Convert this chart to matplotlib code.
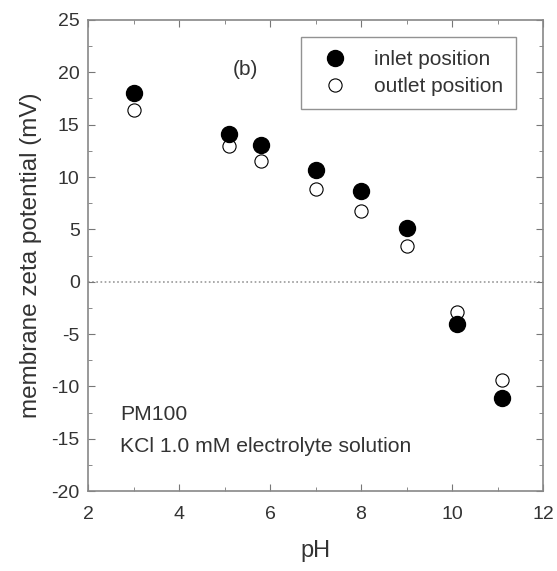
import matplotlib
matplotlib.use("Agg")
import matplotlib.pyplot as plt
from matplotlib.ticker import MultipleLocator

plt.rcParams['font.family'] = ['Liberation Sans', 'DejaVu Sans']
plt.rcParams['axes.unicode_minus'] = False

# pH und Zeta-Potential
ph = [3.0, 5.1, 5.8, 7.0, 8.0, 9.0, 10.1, 11.1]
inlet = [18.0, 14.1, 13.1, 10.7, 8.7, 5.1, -4.0, -11.1]
outlet = [16.4, 13.0, 11.5, 8.9, 6.8, 3.4, -2.9, -9.4]

fig = plt.figure(figsize=(5.57, 5.71), dpi=100)
ax = fig.add_axes([0.158, 0.14, 0.817, 0.825])

ax.axhline(0, color='#999999', ls=(0, (1, 1.5)), lw=1.2, zorder=1)
ax.plot(ph, inlet, 'o', color='black', ms=11.5, label='inlet position', zorder=3)
ax.plot(ph, outlet, 'o', mfc='white', mec='black', mew=0.8, ms=9.5, label='outlet position', zorder=2)

ax.set_xlim(2, 12)
ax.set_ylim(-20, 25)
ax.xaxis.set_major_locator(MultipleLocator(2))
ax.xaxis.set_minor_locator(MultipleLocator(1))
ax.yaxis.set_major_locator(MultipleLocator(5))
ax.yaxis.set_minor_locator(MultipleLocator(2.5))
ax.tick_params(which='both', direction='in', top=True, right=True, color='#777777', labelsize=14, labelcolor='#333333')
ax.tick_params(which='major', length=5)
ax.tick_params(axis='x', which='major', pad=11)
ax.tick_params(axis='y', which='major', pad=6)
ax.tick_params(which='minor', length=3)
for s in ax.spines.values():
    s.set_color('#888888')
    s.set_linewidth(1.2)

ax.set_xlabel('pH', fontsize=17, color='#333333', labelpad=12)
ax.set_ylabel('membrane zeta potential (mV)', fontsize=17.5, color='#333333', labelpad=7)

ax.text(5.47, 20.3, '(b)', fontsize=15, color='#333333', ha='center', va='center')
ax.text(2.7, -12.7, 'PM100', fontsize=15.2, color='#333333', va='center')
ax.text(2.7, -15.7, 'KCl 1.0 mM electrolyte solution', fontsize=15.2, color='#333333', va='center')

leg = ax.legend(loc='upper right', bbox_to_anchor=(0.94, 0.963), fontsize=15, frameon=True,
                fancybox=False, edgecolor='#777777', borderpad=0.6, handletextpad=0.9,
                labelspacing=0.4, borderaxespad=0)
leg.get_frame().set_linewidth(1.0)
for t in leg.get_texts():
    t.set_color('#333333')

fig.savefig('out.png', dpi=100)
